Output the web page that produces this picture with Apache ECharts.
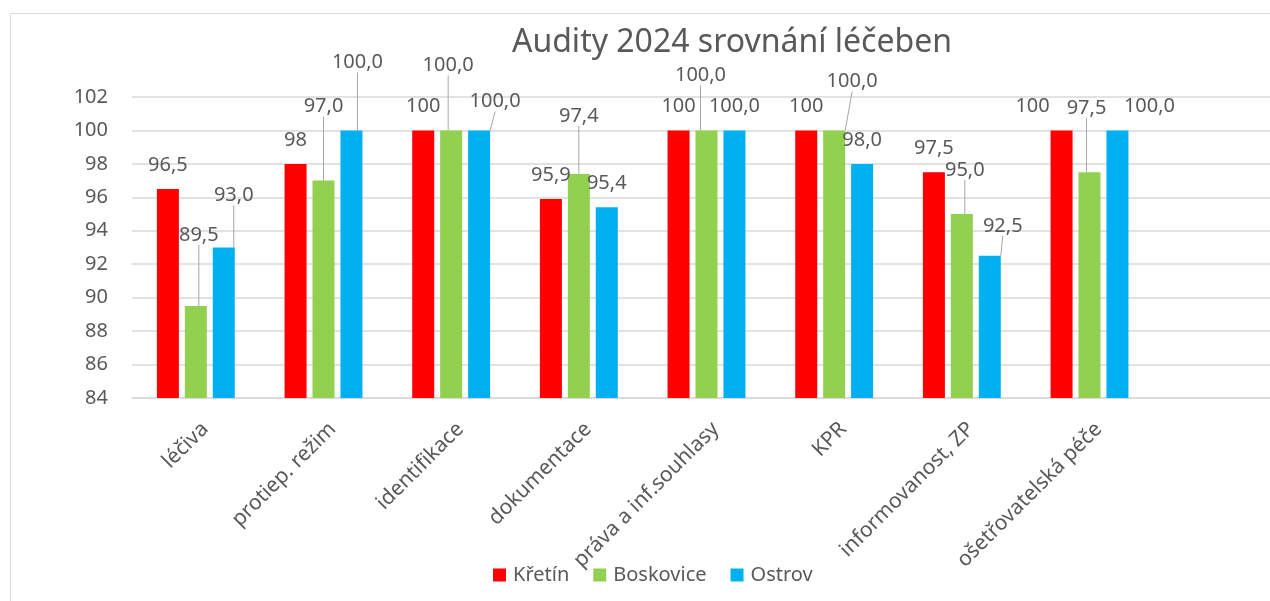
<!DOCTYPE html>
<html>
<head>
<meta charset="utf-8">
<script src="https://cdn.jsdelivr.net/npm/echarts@6/dist/echarts.min.js"></script>
<style>html,body{margin:0;padding:0;background:#fff;overflow:hidden;width:1270px;height:601px;}#c{width:1300px;height:601px;}</style>
</head>
<body>
<div id="c"></div>
<script>
const categories = ['léčiva','protiep. režim','identifikace','dokumentace','práva a inf.souhlasy','KPR','informovanost, ZP','ošetřovatelská péče',''];
const seriesNames = ['Křetín','Boskovice','Ostrov'];
const kretin    = [96.5, 98, 100, 95.9, 100, 100, 97.5, 100];
const boskovice = [89.5, 97.0, 100.0, 97.4, 100.0, 100.0, 95.0, 97.5];
const ostrov    = [93.0, 100.0, 100.0, 95.4, 100.0, 98.0, 92.5, 100.0];
const yTicks = {min: 84, max: 102, interval: 2};

// label placement (style): offsets from default top position, and whether a leader line is drawn
const labelOffsets = [
  [[0,0],[0,0],[0,0],[0,0],[0,0],[0,0],[0,0],[-29,0]],
  [[3,-47],[0,-50],[-3,-41],[0,-34],[-6,-31],[18,-25],[3,-20],[-3,-40]],
  [[10,-28],[6,-44],[16,-5],[0,0],[0,0],[0,0],[13,-6],[32,0]]
];
const leader = [
  [0,0,0,0,0,0,0,0],
  [1,1,1,1,1,1,1,1],
  [1,1,1,0,0,0,1,0]
];
const colors = ['#FF0000','#92D050','#00B0F0'];
const FONT = 'Noto Sans';
const TXT = '#595959';

function fmt(si){
  return function(p){
    const v = p.value;
    if (si === 0) return String(v).replace('.', ',');
    return v.toFixed(1).replace('.', ',');
  };
}

const allData = [kretin, boskovice, ostrov];
const series = allData.map(function(arr, si){
  return {
    name: seriesNames[si],
    type: 'bar',
    barWidth: 22,
    barGap: '27%',
    itemStyle: {color: colors[si]},
    data: arr.map(function(v, i){
      return {value: v, labelLine: {show: !!leader[si][i]}};
    }),
    label: {
      show: true, position: 'top', distance: 14,
      fontFamily: FONT, fontSize: 20, color: TXT,
      formatter: fmt(si)
    },
    labelLine: {show: true, lineStyle: {color: '#a6a6a6', width: 1}},
    labelLayout: function(params){
      const o = labelOffsets[si][params.dataIndex] || [0,0];
      return {dx: o[0], dy: o[1]};
    }
  };
});

const chart = echarts.init(document.getElementById('c'), null, {renderer: 'canvas'});
chart.setOption({
  animation: false,
  backgroundColor: '#fff',
  graphic: [{
    type: 'rect', left: 8, top: 11, z: -10, silent: true,
    shape: {width: 1320, height: 700},
    style: {fill: 'none', stroke: '#d9d9d9', lineWidth: 1}
  }],
  title: {
    text: 'Audity 2024 srovnání léčeben',
    left: 727, top: 22, textAlign: 'center',
    textStyle: {fontFamily: FONT, fontSize: 32, fontWeight: 'normal', color: TXT}
  },
  legend: {
    left: 488, top: 560,
    itemWidth: 13, itemHeight: 13, itemGap: 24,
    icon: 'rect',
    textStyle: {fontFamily: FONT, fontSize: 20, color: TXT, padding: [0, 0, 0, 2]},
    data: seriesNames
  },
  grid: {left: 132, top: 97, width: 1149, height: 301, containLabel: false},
  xAxis: {
    type: 'category',
    data: categories,
    axisLine: {lineStyle: {color: '#d9d9d9', width: 1.5}},
    axisTick: {show: false},
    axisLabel: {
      interval: 0, rotate: 45, margin: 37,
      fontFamily: FONT, fontSize: 21, color: TXT,
      padding: [0, -13, 0, 0]
    }
  },
  yAxis: {
    type: 'value',
    min: yTicks.min, max: yTicks.max, interval: yTicks.interval,
    startValue: yTicks.min,
    axisLine: {show: false},
    axisTick: {show: false},
    splitLine: {lineStyle: {color: '#d9d9d9', width: 1.5}},
    axisLabel: {fontFamily: FONT, fontSize: 20, color: TXT, margin: 24}
  },
  series: series
});
</script>
</body>
</html>
